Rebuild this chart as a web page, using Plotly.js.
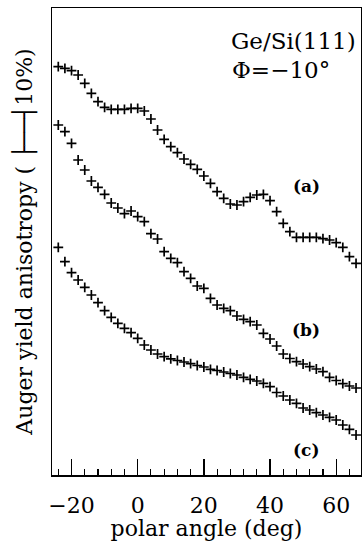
<!DOCTYPE html>
<html>
<head>
<meta charset="utf-8">
<script src="https://cdn.plot.ly/plotly-3.0.1.min.js"></script>
<style>html,body{margin:0;padding:0;background:#fff}#chart{width:362px;height:541px}</style>
</head>
<body>
<div id="chart"></div>
<script>
// polar angle (deg)
var angles = [-24,-22,-20,-18,-16,-14,-12,-10,-8,-6,-4,-2,0,2,4,6,8,10,12,14,16,18,20,22,24,26,28,30,32,34,36,38,40,42,44,46,48,50,52,54,56,58,60,62,64,66];
// Auger yield anisotropy, arbitrary offset units (curves shifted vertically)
var curveA = [408.3,406.7,404.3,400,391.7,381.7,373.3,367.7,365.7,365.7,365.7,366.7,366.7,364,356,345,335.7,328.3,322.3,316,310.7,305.7,299,291.7,283.3,276.7,271,270,273.3,277.7,280,280.7,274.3,263.3,251.7,243.3,237.7,237.7,237.7,237.7,236.3,235,232.3,227.7,218.3,211.7];
var curveB = [350,343.3,331.7,315,305,294,287.7,280.7,272,267,261.3,264,258.3,253.3,241.3,236,223.3,216.7,212.3,203.3,196.7,189,186.7,176.7,170,166.7,164.3,159,155.7,153.3,150,141.7,136,129,121,116.5,113.3,111,108.3,106,103.3,97.7,94.5,91.3,89,87];
var curveC = [227.7,213.3,202.3,195,187.7,180,172.3,164.3,157.7,151.7,146.7,142.3,136.7,130,125,121,118.3,116.2,114.5,113,111.3,109.5,108,105.7,104.5,103,101.5,100,97.7,95.7,94,91.7,88.3,82.5,79,75,71.7,67,65,62.3,60,57.7,55,50,45.7,40];
var curveLabels = ['(a)','(b)','(c)'];
var labelAngle = 51;
var labelY = [289, 145, 25];

var FONT = 'DejaVu Serif, serif';
function tr(y, name){
  return {x: angles, y: y, name: name, type: 'scatter', mode: 'markers',
    marker: {symbol: 'cross-thin', size: 7, color: '#000', line: {color: '#000', width: 1.7}},
    showlegend: false, hoverinfo: 'x+y'};
}
var data = [tr(curveA,'(a)'), tr(curveB,'(b)'), tr(curveC,'(c)')];

var ann = [
  {xref:'paper', yref:'paper', x:0.990, y:0.929, xanchor:'right', yanchor:'middle', text:'Ge/Si(111)', showarrow:false, font:{family:FONT, size:23, color:'#000'}},
  {xref:'paper', yref:'paper', x:0.740, y:0.867, xanchor:'center', yanchor:'middle', text:'Φ=−10°', showarrow:false, font:{family:FONT, size:23, color:'#000'}}
];
for (var i=0;i<curveLabels.length;i++){
  ann.push({xref:'x', yref:'y', x:labelAngle, y:labelY[i], text:'<b>'+curveLabels[i]+'</b>', showarrow:false, xanchor:'center', yanchor:'middle', font:{family:FONT, size:17, color:'#000'}});
}

var layout = {
  width: 362, height: 541,
  margin: {l: 52, r: 1, t: 8, b: 66},
  paper_bgcolor: '#fff', plot_bgcolor: '#fff',
  showlegend: false,
  font: {family: FONT, color: '#000'},
  xaxis: {
    range: [-25.9, 67.5], showgrid: false, zeroline: false,
    showline: true, linecolor: '#000', linewidth: 1.5, mirror: true,
    ticks: 'inside', ticklen: 16, tickwidth: 1.3, tickcolor: '#000',
    tick0: 0, dtick: 20, ticklabelstandoff: 10,
    minor: {ticks: 'inside', dtick: 4, tick0: 0, ticklen: 6, tickwidth: 1.1, tickcolor: '#000'},
    tickfont: {family: FONT, size: 22, color: '#000'},
    title: {text: 'polar angle (deg)', font: {family: FONT, size: 22, color: '#000'}, standoff: 13}
  },
  yaxis: {
    range: [0, 467], showgrid: false, zeroline: false,
    showline: true, linecolor: '#000', linewidth: 1.5, mirror: true,
    ticks: '', showticklabels: false,
    title: {text: 'Auger yield anisotropy ( ├──┤10%)', font: {family: FONT, size: 22, color: '#000'}, standoff: 12}
  },
  annotations: ann
};
Plotly.newPlot('chart', data, layout, {displayModeBar: false, staticPlot: true});
</script>
</body>
</html>
